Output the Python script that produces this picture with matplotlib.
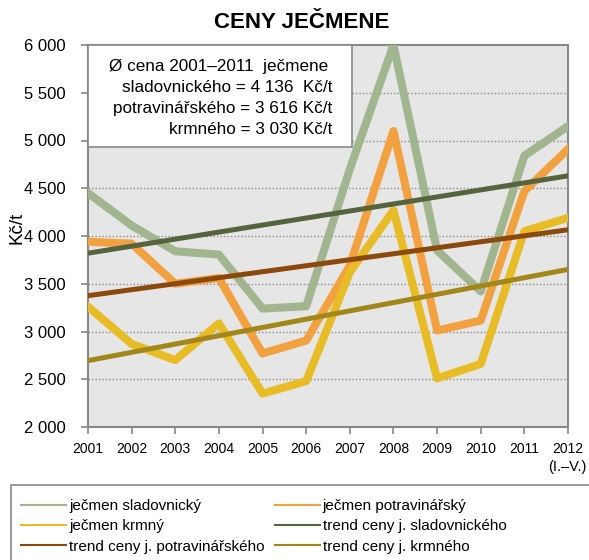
import numpy as np
import matplotlib.pyplot as plt
from matplotlib.patches import Rectangle

plt.rcParams['font.family'] = ['Liberation Sans', 'DejaVu Sans']

# Data (Kč/t)
years = ['2001', '2002', '2003', '2004', '2005', '2006', '2007', '2008', '2009', '2010', '2011', '2012']
sladovnicky = [4450, 4110, 3840, 3805, 3240, 3265, 4700, 6000, 3850, 3420, 4840, 5150]
potravinarsky = [3940, 3920, 3500, 3560, 2770, 2905, 3690, 5100, 3010, 3115, 4470, 4910]
krmny = [3260, 2870, 2700, 3085, 2350, 2480, 3620, 4270, 2510, 2660, 4050, 4190]

# trend lines, start (2001) and end (2012) values
trend_slad = [3820, 4630]
trend_potr = [3375, 4065]
trend_krm = [2695, 3650]

yticks = [2000, 2500, 3000, 3500, 4000, 4500, 5000, 5500, 6000]
ytick_labels = ['2 000', '2 500', '3 000', '3 500', '4 000', '4 500', '5 000', '5 500', '6 000']

note_lines = ['Ø cena 2001–2011  ječmene',
              'sladovnického = 4 136  Kč/t',
              'potravinářského = 3 616 Kč/t',
              'krmného = 3 030 Kč/t']

c_slad = '#A1B58F'
c_potr = '#F2A140'
c_krm = '#E8BC27'
c_tslad = '#55633F'
c_tpotr = '#8B4A0C'
c_tkrm = '#A3871A'

fig = plt.figure(figsize=(5.89, 5.60), dpi=100)
W, H = 589, 560
ax = fig.add_axes([88 / W, 1 - 427 / H, 480 / W, 382 / H])
ax.set_facecolor('#E6E6E6')

x = np.arange(len(years))
ax.plot(x, sladovnicky, color=c_slad, lw=5.8, label='ječmen sladovnický', zorder=3)
ax.plot(x, potravinarsky, color=c_potr, lw=5.8, label='ječmen potravinářský', zorder=3)
ax.plot(x, krmny, color=c_krm, lw=5.8, label='ječmen krmný', zorder=3)
ends = [x[0], x[-1]]
ax.plot(ends, trend_slad, color=c_tslad, lw=3.6, label='trend ceny j. sladovnického', zorder=4)
ax.plot(ends, trend_potr, color=c_tpotr, lw=3.6, label='trend ceny j. potravinářského', zorder=4)
ax.plot(ends, trend_krm, color=c_tkrm, lw=3.6, label='trend ceny j. krmného', zorder=4)

ax.set_xlim(0, 11)
ax.set_ylim(2000, 6000)
ax.set_yticks(yticks)
ax.set_yticklabels(ytick_labels, fontsize=12)
ax.set_xticks(x)
ax.set_xticklabels(years, fontsize=10)
ax.tick_params(axis='both', colors='#888888', length=5, width=1.2, direction='out', labelcolor='black')
ax.tick_params(axis='y', pad=11)
ax.tick_params(axis='x', pad=6)
for s in ax.spines.values():
    s.set_color('#888888')
    s.set_linewidth(1.5)
for v in yticks[1:-1]:
    ax.axhline(v, color='#8C8C8C', lw=1.0, ls=(0, (1, 1.5)), zorder=1)

fig.text(567 / W, 1 - 467 / H, '(I.–V.)', ha='center', va='center', fontsize=10.5)
fig.text(17 / W, 1 - 228 / H, 'Kč/t', rotation=90, ha='center', va='center', fontsize=13.5)

fig.text(302 / W, 1 - 22 / H, 'CENY JEČMENE', ha='center', va='center', fontsize=16, fontweight='bold')

# note box with average prices
box = Rectangle((88 / W, 1 - 147 / H), 264 / W, 102 / H, transform=fig.transFigure,
                facecolor='white', edgecolor='#888888', lw=1.2, zorder=5)
fig.add_artist(box)
fig.text(219 / W, 1 - 67 / H, note_lines[0], ha='center', va='center', fontsize=12.3, zorder=6)
for i, line in enumerate(note_lines[1:]):
    fig.text(332 / W, 1 - (87 + i * 21) / H, line, ha='right', va='center', fontsize=12.3, zorder=6)

# legend, filled row by row like the original
frame = Rectangle((11 / W, -0.05), 600 / W, 1 - 485 / H + 0.05, transform=fig.transFigure,
                  facecolor='white', edgecolor='#888888', lw=1.2)
fig.add_artist(frame)
handles, labels = ax.get_legend_handles_labels()
order = [0, 2, 4, 1, 3, 5]
leg = fig.legend([handles[i] for i in order], [labels[i] for i in order], ncol=2, loc='upper left',
                 bbox_to_anchor=(21 / W, 1 - 499 / H), frameon=False, fontsize=11,
                 handlelength=2.95, handletextpad=0.2, columnspacing=0.65, labelspacing=0.42,
                 borderaxespad=0, borderpad=0)
for h in leg.legend_handles:
    h.set_linewidth(1.5)

fig.savefig('out.png', dpi=100)
